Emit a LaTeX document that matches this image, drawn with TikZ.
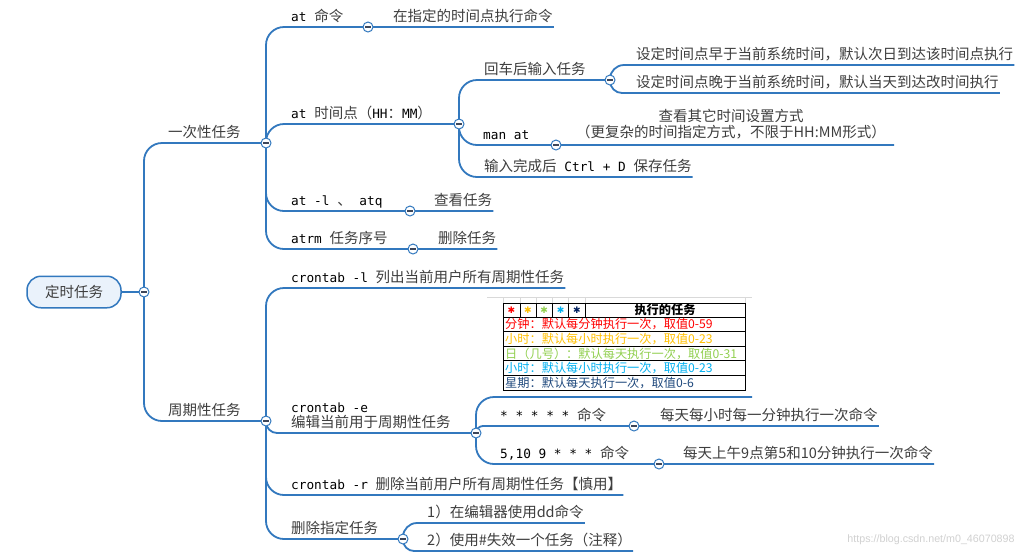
\documentclass[tikz,border=0pt]{standalone}
\usepackage{fontspec}
\setmainfont{Noto Sans CJK SC}
\setmonofont[Scale=0.88]{DejaVu Sans Mono}
\newfontfamily\markfont{DejaVu Sans}
\newfontfamily\wmfont{Liberation Sans}
\usetikzlibrary{positioning,calc}
\newcommand{\cmd}[1]{\textcolor{black}{\texttt{#1}}}

\begin{document}
\begin{tikzpicture}[x=1pt, y=-1pt,
    branch/.style={draw=mmblue, line width=1.8pt, rounded corners=18pt},
    topic/.style={anchor=south west, inner xsep=1pt, inner ysep=0pt, text depth=5.5pt,
        text=txtgray, font=\fontsize{14.5}{15}\selectfont},
    rootbox/.style={draw=mmblue, fill=rootfill, line width=1.5pt, rounded corners=14pt,
        minimum width=94pt, minimum height=31.5pt, text=txtgray, font=\fontsize{14.5}{15}\selectfont},
    knob/.style={circle, draw=mmblue, fill=white, line width=1pt, minimum size=10pt, inner sep=0pt,
        path picture={\draw[line width=1.1pt, knobdash]
            ([xshift=-2.6pt]path picture bounding box.center) -- ([xshift=2.6pt]path picture bounding box.center);}},
    cell/.style={anchor=west, inner sep=0pt, font=\fontsize{12.2}{13}\selectfont},
    tabline/.style={draw=black, line width=0.8pt},
    gridgray/.style={draw=black!15, line width=0.6pt}]

    % Colori della mappa
    \definecolor{mmblue}{RGB}{50,120,190}
    \definecolor{rootfill}{RGB}{234,242,251}
    \definecolor{txtgray}{RGB}{62,62,62}
    \definecolor{knobdash}{RGB}{60,70,90}
    \definecolor{star1}{RGB}{255,0,0}
    \definecolor{star2}{RGB}{255,192,0}
    \definecolor{star3}{RGB}{146,208,80}
    \definecolor{star4}{RGB}{0,176,240}
    \definecolor{star5}{RGB}{0,32,96}
    \definecolor{row5}{RGB}{31,73,125}

    \fill[white] (0,0) rectangle (1024,558);
    \useasboundingbox (0,0) rectangle (1024,558);

    % Punti di diramazione
    \coordinate (j0) at (144,292);
    \coordinate (j1) at (266,143);
    \coordinate (j2) at (266,421);
    \coordinate (j3) at (368,27);
    \coordinate (j4) at (459,124);
    \coordinate (j5) at (610,80);
    \coordinate (j6) at (556,145);
    \coordinate (j7) at (410,211);
    \coordinate (j8) at (413,249);
    \coordinate (j9) at (476,433);
    \coordinate (j10) at (634,426);
    \coordinate (j11) at (659,464);
    \coordinate (j12) at (403,539);
    \coordinate (tabend) at (752,397);

    % Radice
    \node[rootbox] (root) at (74,292) {定时任务};

    % Primo livello
    \node[topic] (once) at (167,143) {一次性任务};
    \node[topic] (cycle) at (167,421) {周期性任务};

    % Ramo: una sola volta
    \node[topic] (atcmd) at (290,27) {\cmd{at }命令};
    \node[topic] (atcmddesc) at (392,27) {在指定的时间点执行命令};
    \node[topic] (attime) at (290,124) {\cmd{at }时间点（\cmd{HH}：\cmd{MM}）};
    \node[topic] (enter) at (483,80) {回车后输入任务};
    \node[topic] (early) at (635,65) {设定时间点早于当前系统时间，默认次日到达该时间点执行};
    \node[topic] (late) at (635,93) {设定时间点晚于当前系统时间，默认当天到达改时间执行};
    \node[topic] (manat) at (482,145) {\cmd{man at}};
    \node[topic, anchor=south, align=center, inner xsep=8pt, text depth=7.5pt,
        font=\fontsize{14.5}{16}\selectfont] (mandesc) at (731,145)
        {查看其它时间设置方式\\（更复杂的时间指定方式，不限于HH:MM形式）};
    \node[topic] (ctrld) at (483,177) {输入完成后\cmd{ Ctrl + D }保存任务};
    \node[topic] (atl) at (290,211) {\cmd{at -l }、\cmd{ atq}};
    \node[topic] (atldesc) at (433,211) {查看任务};
    \node[topic] (atrm) at (290,249) {\cmd{atrm }任务序号};
    \node[topic] (atrmdesc) at (437,249) {删除任务};

    % Ramo: periodico
    \node[topic] (cronl) at (290,288) {\cmd{crontab -l }列出当前用户所有周期性任务};
    \node[topic, align=left] (crone) at (290,433) {\cmd{crontab -e}\\编辑当前用于周期性任务};
    \node[topic] (stars) at (499,426) {\cmd{* * * * * }命令};
    \node[topic] (starsdesc) at (659,426) {每天每小时每一分钟执行一次命令};
    \node[topic] (fiveten) at (499,464) {\cmd{5,10 9 * * * }命令};
    \node[topic] (fivetendesc) at (682,464) {每天上午9点第5和10分钟执行一次命令};
    \node[topic] (cronr) at (290,495) {\cmd{crontab -r }删除当前用户所有周期性任务【慎用】};
    \node[topic] (delsel) at (290,539) {删除指定任务};
    \node[topic] (deldd) at (426,523) {1）在编辑器使用dd命令};
    \node[topic] (delhash) at (426,551) {2）使用\#失效一个任务（注释）};

    % Tabella dei campi
    \draw[gridgray] (487,297) -- (752,297);
    \foreach \xx in {503,520,536,552,568,585,745}
        \draw[gridgray] (\xx,297) -- (\xx,303);
    \draw[tabline] (503,303) rectangle (745,390);
    \foreach \yy in {317,331.6,346.2,360.8,375.4}
        \draw[tabline] (503,\yy) -- (745,\yy);
    \foreach \xx in {520,536,552,568,585}
        \draw[tabline] (\xx,303) -- (\xx,317);
    \foreach \c [count=\i] in {star1,star2,star3,star4,star5}
        \node[anchor=base, inner sep=0pt, text=\c, font=\markfont\fontsize{9}{9}\selectfont]
            (star\i) at (495+16.4*\i,313.6) {✱};
    \node[cell, anchor=center, font=\bfseries\fontsize{12.2}{13}\selectfont] (head) at (665,310) {执行的任务};
    \foreach \c/\t [count=\i] in {star1/分钟：默认每分钟执行一次，取值0-59,
                                  star2/小时：默认每小时执行一次，取值0-23,
                                  star3/日（几号）：默认每天执行一次，取值0-31,
                                  star4/小时：默认每小时执行一次，取值0-23,
                                  row5/星期：默认每天执行一次，取值0-6}
        \node[cell, text=\c] (row\i) at (505,309.7+14.6*\i) {\t};

    % Collegamenti
    \draw[branch] (root) -- (j0);
    \draw[branch] (j0) |- (j1);
    \draw[branch] (j0) |- (j2);

    \draw[branch] (j1) |- (j3) -- (atcmddesc.south east);
    \draw[branch] (j1) |- (j4);
    \draw[branch] (j4) |- (j5);
    \draw[branch, rounded corners=14pt] (j5) |- (early.south east);
    \draw[branch, rounded corners=12pt] (j5) |- (late.south east);
    \draw[branch] (j4) |- (j6) -- (mandesc.south east);
    \draw[branch] (j4) |- (ctrld.south east);
    \draw[branch] (j1) |- (j7) -- (atldesc.south east);
    \draw[branch] (j1) |- (j8) -- (atrmdesc.south east);

    \draw[branch] (j2) |- (cronl.south east);
    \draw[branch, rounded corners=11pt] (j2) |- (j9);
    \draw[branch] (j9) |- (tabend);
    \draw[branch, rounded corners=7pt] (j9) |- (j10) -- (starsdesc.south east);
    \draw[branch] (j9) |- (j11) -- (fivetendesc.south east);
    \draw[branch] (j2) |- (cronr.south east);
    \draw[branch] (j2) |- (j12);
    \draw[branch, rounded corners=14pt] (j12) |- (deldd.south east);
    \draw[branch, rounded corners=11pt] (j12) |- (delhash.south east);

    % Pulsanti di chiusura
    \foreach \j in {j0,j1,j2,j3,j4,j5,j6,j7,j8,j9,j10,j11,j12}
        \node[knob] (k\j) at (\j) {};

    % Filigrana
    \node[text=black!18, font=\wmfont\fontsize{10.7}{12}\selectfont] (wm) at (931,540)
        {https://blog.csdn.net/m0\_46070898};
\end{tikzpicture}
\end{document}
